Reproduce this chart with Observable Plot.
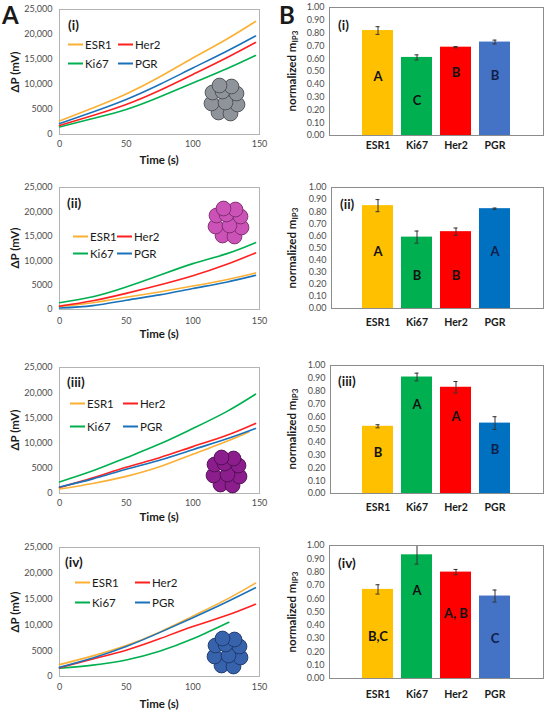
<!DOCTYPE html>
<html><head><meta charset="utf-8">
<script src="https://cdn.jsdelivr.net/npm/d3@7"></script>
<script src="https://cdn.jsdelivr.net/npm/@observablehq/plot@0.6"></script>
<style>
body{margin:0;background:#fff;font-family:Lato,"Open Sans",sans-serif;}
#root{position:relative;width:550px;height:712px;overflow:hidden;}
.lbl{position:absolute;white-space:nowrap;font-weight:bold;color:#1a1a1a;}
.rot{transform:translate(-50%,-50%) rotate(-90deg);}
.ctr{transform:translate(-50%,-50%);}
.leg{position:absolute;font-size:11.5px;color:#1a1a1a;white-space:nowrap;display:flex;align-items:center;transform:translateY(-50%);}
.leg span.sw{display:inline-block;width:15px;height:2px;margin-right:2px;}
.bl text{font-weight:700;}
</style>
</head><body><div id="root"></div>
<script>
// ---------- DATA ----------
const timeS = [0, 25, 50, 75, 100, 125, 147];
const genes = ["ESR1", "Ki67", "Her2", "PGR"];
const lineColors = ["#FBB034", "#00B050", "#FF2020", "#1A72BA"];
const barColorsA = ["#FFC000", "#00B050", "#FF0000", "#4472C4"];
const barColorsB = ["#FFC000", "#00B050", "#FF0000", "#0070C0"];
const yTicksDP = [0, 5000, 10000, 15000, 20000, 25000];
const xTicksT = [0, 50, 100, 150];
const yTicksM = [0, 0.1, 0.2, 0.3, 0.4, 0.5, 0.6, 0.7, 0.8, 0.9, 1.0];
const panelTags = ["(i)", "(ii)", "(iii)", "(iv)"];

// ΔP (mV) traces, values at timeS (last value at the series end time)
const dpI_ESR1 = [2700, 5300, 8100, 11500, 15300, 19000, 22600];
const dpI_Ki67 = [1500, 3200, 5000, 7500, 10300, 13100, 15800];
const dpI_Her2 = [1800, 3800, 6000, 8800, 12000, 15300, 18400];
const dpI_PGR  = [2200, 4500, 7000, 10000, 13300, 16600, 19700];
const endI = [147, 147, 147, 147];

const dpII_ESR1 = [600, 1400, 2500, 3600, 4800, 6100, 7500];
const dpII_Ki67 = [1400, 2600, 4600, 7000, 9400, 11400, 13700];
const dpII_Her2 = [700, 1800, 3300, 5000, 6900, 9200, 11600];
const dpII_PGR  = [300, 800, 1900, 3000, 4300, 5600, 7000];
const endII = [147, 147, 147, 147];

const dpIII_ESR1 = [900, 2000, 3400, 5300, 7800, 10300, 12200];
const dpIII_Ki67 = [2300, 4500, 7100, 9800, 12900, 16200, 19700];
const dpIII_Her2 = [1200, 3100, 5200, 7100, 9300, 11500, 13900];
const dpIII_PGR  = [1300, 2900, 4800, 6600, 8700, 10800, 12900];
const endIII = [142, 147, 147, 147];

const dpIV_ESR1 = [2300, 4000, 6000, 8600, 11700, 14900, 18100];
const dpIV_Ki67 = [1600, 2200, 3200, 4900, 7300, 10500];
const dpIV_Her2 = [1700, 3400, 5100, 7300, 9700, 11800, 14000];
const dpIV_PGR  = [1800, 3600, 5800, 8500, 11400, 14400, 17200];
const endIV = [147, 127, 147, 147];

// normalized m_IP3 bars
const mI = [0.82, 0.61, 0.69, 0.73];
const errI = [0.03, 0.02, 0.005, 0.015];
const letI = ["A", "C", "B", "B"];
const letYI = [0.46, 0.27, 0.49, 0.47];

const mII = [0.85, 0.59, 0.635, 0.825];
const errII = [0.05, 0.05, 0.03, 0.005];
const letII = ["A", "B", "B", "A"];
const letYII = [0.47, 0.27, 0.27, 0.47];

const mIII = [0.525, 0.91, 0.83, 0.55];
const errIII = [0.012, 0.03, 0.045, 0.05];
const letIII = ["B", "A", "A", "B"];
const letYIII = [0.32, 0.69, 0.60, 0.34];

const mIV = [0.67, 0.93, 0.80, 0.62];
const errIV = [0.035, 0.07, 0.02, 0.045];
const letIV = ["B,C", "A", "A, B", "C"];
const letYIV = [0.31, 0.66, 0.49, 0.30];

// cell-cluster icon (relative cell centres, px)
const cellIcon = [[-6,-12],[6,-13],[13,-4],[-13,-3],[1,-2],[12,7],[-12,8],[-2,9],[7,14],[-5,15]];
const iconFill = ["#8f949b", "#CB52B6", "#8B1D8D", "#3762AC"];
const iconStroke = ["#4a4d52", "#7a2a6c", "#4d0f4f", "#1d3768"];

// ---------- LAYOUT ----------
const leftGeo = [
  {top: 9, bottom: 134, tickPad: 6, timeY: 159, legRows: [44, 63], legCols: [68, 118], tag: [68, 25], icon: [224, 100]},
  {top: 187, bottom: 309, tickPad: 8, timeY: 333, legRows: [236, 253], legCols: [73, 117], tag: [67, 203], icon: [228, 223]},
  {top: 367, bottom: 493, tickPad: 6, timeY: 516, legRows: [403, 426], legCols: [70, 123], tag: [67, 382], icon: [226, 472]},
  {top: 547, bottom: 676, tickPad: 7, timeY: 703, legRows: [582, 602], legCols: [75, 135], tag: [65, 562], icon: [227, 653]}
];
const rightGeo = [
  {top: 7, bottom: 135, left: 329, catPad: 6, tag: [338, 25]},
  {top: 187, bottom: 308, left: 331, catPad: 10, tag: [340, 204]},
  {top: 365, bottom: 493, left: 330, catPad: 10, tag: [338, 381]},
  {top: 545, bottom: 678, left: 329, catPad: 12, tag: [338, 563]}
];

const root = document.getElementById("root");
function place(el, left, top) {
  el.style.position = "absolute"; el.style.left = left + "px"; el.style.top = top + "px";
  root.appendChild(el); return el;
}
function label(html, x, y, size, cls) {
  const d = document.createElement("div");
  d.className = "lbl " + cls; d.innerHTML = html; d.style.fontSize = size + "px";
  d.style.left = x + "px"; d.style.top = y + "px"; root.appendChild(d); return d;
}
const fmtDP = d => d >= 10000 ? d3.format(",")(d) : String(d);

const leftData = [
  [[dpI_ESR1, dpI_Ki67, dpI_Her2, dpI_PGR], endI],
  [[dpII_ESR1, dpII_Ki67, dpII_Her2, dpII_PGR], endII],
  [[dpIII_ESR1, dpIII_Ki67, dpIII_Her2, dpIII_PGR], endIII],
  [[dpIV_ESR1, dpIV_Ki67, dpIV_Her2, dpIV_PGR], endIV]
];
const rightData = [
  [mI, errI, letI, letYI, barColorsA],
  [mII, errII, letII, letYII, barColorsB],
  [mIII, errIII, letIII, letYIII, barColorsB],
  [mIV, errIV, letIV, letYIV, barColorsA]
];

leftData.forEach(([series, ends], p) => {
  const g = leftGeo[p];
  const rows = [];
  series.forEach((vals, k) => {
    vals.forEach((v, i) => rows.push({gene: genes[k], color: lineColors[k], t: i === vals.length - 1 ? ends[k] : timeS[i], v}));
  });
  const chart = Plot.plot({
    width: 275, height: (g.bottom - g.top) + 40,
    marginTop: 10, marginBottom: 30, marginLeft: 59, marginRight: 16,
    style: {background: "none", overflow: "visible", fontFamily: "Lato, 'Open Sans', sans-serif"},
    x: {domain: [0, 150]},
    y: {domain: [0, 25000]},
    color: {type: "identity"},
    marks: [
      Plot.frame({stroke: "#b3b3b3"}),
      Plot.axisY({ticks: yTicksDP, tickFormat: fmtDP, tickSize: 0, tickPadding: 7, fontSize: 9, fill: "#4d4d4d", label: null}),
      Plot.axisX({ticks: xTicksT, tickSize: 0, tickPadding: g.tickPad, fontSize: 9, fill: "#4d4d4d", label: null}),
      Plot.line(rows, {x: "t", y: "v", z: "gene", stroke: "color", strokeWidth: 1.6, curve: "natural"})
    ]
  });
  place(chart, 0, g.top - 10);
  label("ΔP (mV)", 14, (g.top + g.bottom) / 2, 11.5, "rot");
  label("Time (s)", 159, g.timeY, 11.5, "ctr");
  label(panelTags[p], g.tag[0], g.tag[1], 13.5, "").style.transform = "translateY(-50%)";
  const legOrder = [[0, 2], [1, 3]];
  legOrder.forEach((pair, r) => pair.forEach((k, c) => {
    const d = document.createElement("div");
    d.className = "leg";
    d.innerHTML = `<span class="sw" style="background:${lineColors[k]}"></span>${genes[k]}`;
    d.style.left = g.legCols[c] + "px"; d.style.top = g.legRows[r] + "px";
    root.appendChild(d);
  }));
  const icon = Plot.plot({
    width: 46, height: 46, margin: 0,
    style: {background: "none", overflow: "visible"},
    x: {domain: [-23, 23], axis: null}, y: {domain: [-23, 23], axis: null},
    marks: [Plot.dot(cellIcon, {x: d => d[0], y: d => d[1], r: 7.4, fill: iconFill[p], stroke: iconStroke[p], strokeWidth: 0.9})]
  });
  place(icon, g.icon[0] - 23, g.icon[1] - 23);
});

rightData.forEach(([vals, errs, lets, letY, cols], p) => {
  const g = rightGeo[p];
  const rows = genes.map((gene, i) => ({gene, v: vals[i], e: errs[i], letter: lets[i], ly: letY[i], color: cols[i]}));
  const chart = Plot.plot({
    width: 275, height: (g.bottom - g.top) + 40,
    marginTop: 10, marginBottom: 30, marginLeft: g.left - 275, marginRight: 7,
    style: {background: "none", overflow: "visible", fontFamily: "Lato, 'Open Sans', sans-serif"},
    x: {domain: genes, padding: 0.2, insetLeft: 25 + (329 - g.left), insetRight: 24},
    y: {domain: [0, 1]},
    color: {type: "identity"},
    marks: [
      Plot.barY(rows, {x: "gene", y: "v", fill: "color"}),
      Plot.ruleX(rows, {x: "gene", y1: d => d.v - d.e, y2: d => d.v + d.e, stroke: "#333", strokeWidth: 1}),
      Plot.tickY(rows, {x: "gene", y: d => d.v - d.e, stroke: "#333", strokeWidth: 1, insetLeft: 13.5, insetRight: 13.5}),
      Plot.tickY(rows, {x: "gene", y: d => d.v + d.e, stroke: "#333", strokeWidth: 1, insetLeft: 13.5, insetRight: 13.5}),
      Plot.text(rows, {x: "gene", y: "ly", text: "letter", fontWeight: 700, fontSize: 13, fill: d => d.gene === "PGR" ? "#0f1f4a" : "#111", className: "bl"}),
      Plot.frame({stroke: "#8c8c8c"}),
      Plot.axisY({ticks: yTicksM, tickFormat: ".2f", tickSize: 0, tickPadding: 5, fontSize: 9, fill: "#4d4d4d", label: null}),
      Plot.axisX({tickSize: 0, tickPadding: g.catPad, fontSize: 10.5, fontWeight: "bold", fill: "#1a1a1a", label: null})
    ]
  });
  place(chart, 275, g.top - 10);
  label("normalized m<sub style='font-size:8px;vertical-align:-2px'>IP3</sub>", 292, (g.top + g.bottom) / 2, 11.5, "rot");
  label(panelTags[p], g.tag[0], g.tag[1], 13.5, "").style.transform = "translateY(-50%)";
});

label("A", 2, 14, 24, "").style.transform = "translateY(-50%)";
label("B", 279, 14, 24, "").style.transform = "translateY(-50%)";
</script>
</body></html>
